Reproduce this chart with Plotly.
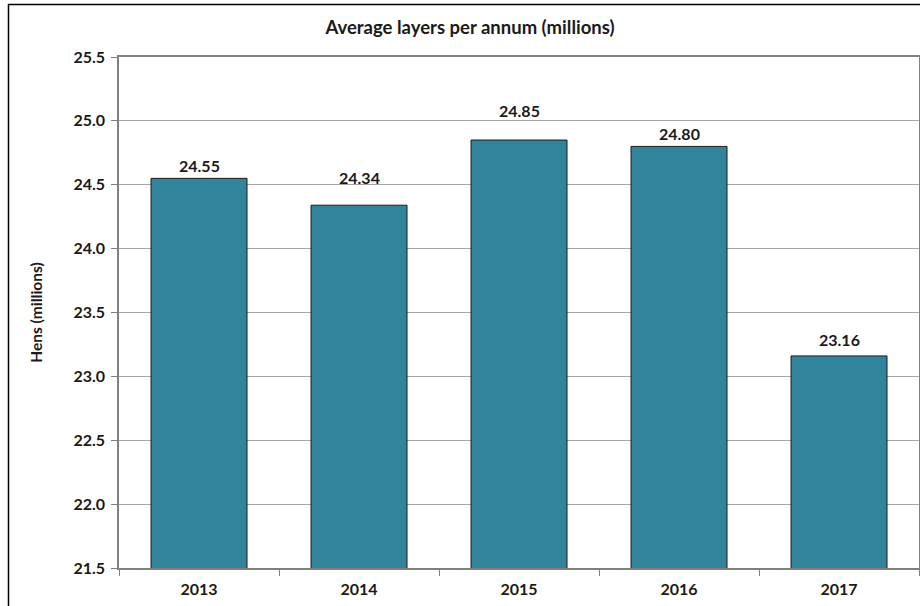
import plotly.graph_objects as go

years = ["2013", "2014", "2015", "2016", "2017"]
hens = [24.55, 24.34, 24.85, 24.80, 23.16]
labels = ["24.55", "24.34", "24.85", "24.80", "23.16"]
# extra pixel lift of some value labels (they sit clear of gridlines in the original)
label_lift = [0, 15, 17, 0, 4]

FONT = "Lato"
TXT = "#1a1a1a"
fig = go.Figure()
fig.add_trace(go.Bar(
    x=years, y=hens,
    marker=dict(color="#31849B", line=dict(color="#1a1a1a", width=1)),
    width=0.6,
    hoverinfo="skip",
))

for i, (y, t, lift) in enumerate(zip(hens, labels, label_lift)):
    fig.add_annotation(x=i, y=y, text="<b>" + t + "</b>", showarrow=False,
                       yanchor="bottom", yshift=1 + lift,
                       font=dict(family=FONT, size=16, color=TXT))

fig.add_shape(type="rect", xref="paper", yref="paper",
              x0=(8.5 - 119) / 800, x1=1.05, y0=-0.2, y1=(568 - 4.5) / 511,
              line=dict(color="black", width=1.5), layer="above")

fig.update_layout(
    width=920, height=606,
    margin=dict(l=119, r=1, t=57, b=38, pad=0),
    paper_bgcolor="white", plot_bgcolor="white",
    showlegend=False,
    title=dict(text="<b>Average layers per annum (millions)</b>",
               x=470 / 920, xref="container", xanchor="center",
               y=1 - 28 / 606, yref="container", yanchor="middle",
               font=dict(family=FONT, size=18.5, color=TXT)),
    font=dict(family=FONT, size=16, color=TXT),
)
fig.update_xaxes(
    type="category", automargin=False, range=[-0.5, len(years) - 0.5],
    showgrid=False, showline=True, linecolor="#808080", linewidth=1.5, mirror=True,
    ticks="outside", ticklen=6, tickcolor="#808080", tickson="boundaries",
    tickfont=dict(family=FONT, size=16, color=TXT),
    ticklabelstandoff=6,
    tickprefix="<b>", ticksuffix="</b>",
)
fig.update_yaxes(
    range=[21.5, 25.5], dtick=0.5, tick0=21.5, tickformat=".1f", automargin=False,
    showgrid=True, gridcolor="#A6A6A6", gridwidth=1,
    showline=True, linecolor="#808080", linewidth=1.5, mirror=True,
    ticks="outside", ticklen=6, tickcolor="#808080",
    ticklabelstandoff=3,
    tickfont=dict(family=FONT, size=16, color=TXT),
    tickprefix="<b>", ticksuffix="</b>",
    title=dict(text="<b>Hens (millions)</b>", standoff=27,
               font=dict(family=FONT, size=15.5, color=TXT)),
    zeroline=False,
)

fig.write_html("out.html")
